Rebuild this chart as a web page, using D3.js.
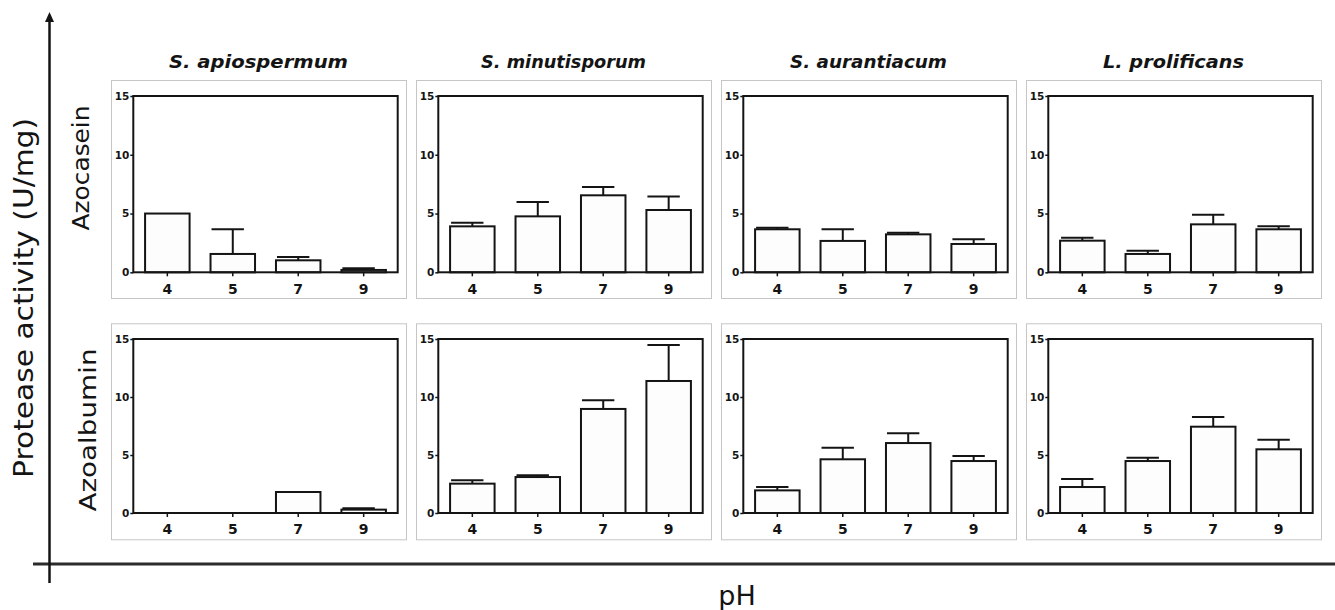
<!DOCTYPE html>
<html>
<head>
<meta charset="utf-8">
<script src="https://cdn.jsdelivr.net/npm/d3@7"></script>
<style>
  html, body { margin: 0; padding: 0; background: #fff; }
  svg { display: block; }
</style>
</head>
<body>
<svg id="chart" width="1335" height="610"></svg>
<script>
// ---------- DATA ----------
const species = ["S. apiospermum", "S. minutisporum", "S. aurantiacum", "L. prolificans"];
const substrates = ["Azocasein", "Azoalbumin"];
const phLevels = ["4", "5", "7", "9"];
const yTicks = [0, 5, 10, 15];

// mean protease activity (U/mg), per species, per pH
const azocaseinMean = [
  [5.00, 1.56, 1.02, 0.20],
  [3.91, 4.76, 6.55, 5.30],
  [3.66, 2.67, 3.23, 2.41],
  [2.69, 1.56, 4.08, 3.66]
];
const azocaseinSD = [
  [0.00, 2.10, 0.28, 0.14],
  [0.31, 1.22, 0.71, 1.14],
  [0.14, 0.99, 0.14, 0.40],
  [0.26, 0.28, 0.82, 0.25]
];
const azoalbuminMean = [
  [0.00, 0.00, 1.81, 0.29],
  [2.53, 3.10, 8.97, 11.38],
  [1.95, 4.63, 6.03, 4.48],
  [2.24, 4.48, 7.44, 5.49]
];
const azoalbuminSD = [
  [0.00, 0.00, 0.00, 0.11],
  [0.29, 0.15, 0.74, 3.10],
  [0.29, 1.00, 0.84, 0.43],
  [0.69, 0.29, 0.84, 0.83]
];
const yLabel = "Protease activity (U/mg)";
const xLabel = "pH";

// ---------- LAYOUT ----------
const svg = d3.select("#chart");
const sans = "'DejaVu Sans', 'Liberation Sans', sans-serif";
const ink = "#141414";

const means = [azocaseinMean, azoalbuminMean];
const sds = [azocaseinSD, azoalbuminSD];

const colX0 = 111, colStep = 305, frameW = 295;
const rowFrameY = [80, 323.3], rowFrameH = [218, 216];
const plotTop = [96, 339], plotBottom = [272.3, 513];
const plotLeftOff = 22.3, plotW = 264.4;

// outer axes
svg.append("line")
  .attr("x1", 33).attr("x2", 1335).attr("y1", 564).attr("y2", 564)
  .attr("stroke", "#2b2b2b").attr("stroke-width", 3);
svg.append("line")
  .attr("x1", 49.5).attr("x2", 49.5).attr("y1", 583).attr("y2", 20)
  .attr("stroke", ink).attr("stroke-width", 2.5);
svg.append("path")
  .attr("d", "M49.5,12 L45,22 L54,22 Z")
  .attr("fill", ink);

// outer labels
svg.append("text")
  .attr("transform", "translate(33,298) rotate(-90)")
  .attr("text-anchor", "middle")
  .attr("font-family", sans).attr("font-size", 26)
  .attr("textLength", 360).attr("lengthAdjust", "spacingAndGlyphs")
  .attr("fill", ink)
  .text(yLabel);

svg.append("text")
  .attr("x", 737).attr("y", 605)
  .attr("text-anchor", "middle")
  .attr("font-family", sans).attr("font-size", 27)
  .attr("fill", ink)
  .text(xLabel);

const subBaseX = [89, 96];
const subCenterY = [168, 430];
const subLen = [125, 163];
substrates.forEach((s, r) => {
  svg.append("text")
    .attr("transform", `translate(${subBaseX[r]},${subCenterY[r]}) rotate(-90)`)
    .attr("text-anchor", "middle")
    .attr("font-family", sans).attr("font-size", 23)
    .attr("textLength", subLen[r]).attr("lengthAdjust", "spacingAndGlyphs")
    .attr("fill", ink)
    .text(s);
});

const titleLen = [179, 165, 157, 141];
species.forEach((sp, c) => {
  svg.append("text")
    .attr("x", colX0 + c * colStep + frameW / 2)
    .attr("y", 68)
    .attr("text-anchor", "middle")
    .attr("font-family", sans).attr("font-size", 17)
    .attr("font-weight", "bold").attr("font-style", "italic")
    .attr("textLength", titleLen[c]).attr("lengthAdjust", "spacingAndGlyphs")
    .attr("fill", ink)
    .text(sp);
});

// ---------- PANELS ----------
substrates.forEach((sub, r) => {
  species.forEach((sp, c) => {
    const fx = colX0 + c * colStep;
    const fy = rowFrameY[r];
    svg.append("rect")
      .attr("x", fx + 0.5).attr("y", fy + 0.5)
      .attr("width", frameW).attr("height", rowFrameH[r])
      .attr("fill", "#fff").attr("stroke", "#c6c6c6").attr("stroke-width", 1);

    const left = fx + plotLeftOff, right = left + plotW;
    const x = d3.scaleBand().domain(phLevels).range([left, right])
      .paddingInner(0.32).paddingOuter(0.18);
    const y = d3.scaleLinear().domain([0, 15]).range([plotBottom[r], plotTop[r]]);

    const g = svg.append("g");
    const data = phLevels.map((ph, i) => ({ ph, v: means[r][c][i], sd: sds[r][c][i] }));
    const bw = x.bandwidth();

    // error bars (upper only)
    const eb = data.filter(d => d.sd > 0);
    g.selectAll(".ev").data(eb).enter().append("line")
      .attr("x1", d => x(d.ph) + bw / 2).attr("x2", d => x(d.ph) + bw / 2)
      .attr("y1", d => y(d.v)).attr("y2", d => y(d.v + d.sd))
      .attr("stroke", ink).attr("stroke-width", 2);
    g.selectAll(".ec").data(eb).enter().append("line")
      .attr("x1", d => x(d.ph) + 1).attr("x2", d => x(d.ph) + bw * 0.75)
      .attr("y1", d => y(d.v + d.sd)).attr("y2", d => y(d.v + d.sd))
      .attr("stroke", ink).attr("stroke-width", 2);

    // bars
    g.selectAll(".bar").data(data.filter(d => d.v > 0)).enter().append("rect")
      .attr("x", d => x(d.ph)).attr("width", bw)
      .attr("y", d => y(d.v)).attr("height", d => y(0) - y(d.v))
      .attr("fill", "#fdfdfd").attr("stroke", ink).attr("stroke-width", 2);

    // plot frame
    g.append("rect")
      .attr("x", left).attr("y", plotTop[r])
      .attr("width", plotW).attr("height", plotBottom[r] - plotTop[r])
      .attr("fill", "none").attr("stroke", ink).attr("stroke-width", 2);

    // y axis
    const ya = g.append("g").attr("transform", `translate(${left},0)`)
      .call(d3.axisLeft(y).tickValues(yTicks).tickSize(3).tickPadding(1));
    ya.select(".domain").remove();
    ya.selectAll("line").attr("stroke", ink).attr("stroke-width", 1.5);
    ya.selectAll("text").attr("font-family", sans).attr("font-size", 10.5)
      .attr("font-weight", "bold").attr("fill", ink);

    // x axis
    const xa = g.append("g").attr("transform", `translate(0,${plotBottom[r]})`)
      .call(d3.axisBottom(x).tickSize(4).tickPadding(7.5));
    xa.select(".domain").remove();
    xa.selectAll("line").attr("stroke", ink).attr("stroke-width", 1.5);
    xa.selectAll("text").attr("font-family", sans).attr("font-size", 14)
      .attr("font-weight", "bold").attr("fill", ink);
  });
});
</script>
</body>
</html>
